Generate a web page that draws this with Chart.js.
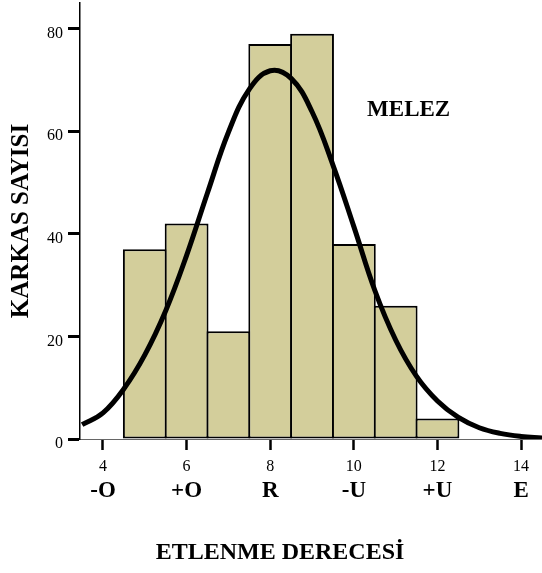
<!DOCTYPE html>
<html>
<head>
<meta charset="utf-8">
<script src="https://cdn.jsdelivr.net/npm/chart.js@4/dist/chart.umd.min.js"></script>
<style>
  html, body { margin: 0; padding: 0; background: #fff; }
  #wrap { width: 542px; height: 573px; }
</style>
</head>
<body>
<div id="wrap"><canvas id="hist" width="542" height="573"></canvas></div>
<script>
// karkas sayısı, etlenme derecesine göre
const binCenters = [5, 6, 7, 8, 9, 10, 11, 12];
const counts = [37, 42, 21, 77, 79, 38, 26, 4];

// normal eğri noktaları
const curveX = [3.5, 4, 4.5, 5, 5.5, 6, 6.5, 7, 7.5, 8, 8.5, 9, 9.5, 10, 10.5, 11, 11.5, 12, 12.5, 13, 13.5, 14, 14.5];
const curveY = [2.8, 5.1, 9.8, 16.4, 25.0, 35.8, 48.0, 59.8, 68.2, 71.8, 70.3, 63.8, 53.4, 41.4, 29.0, 19.3, 12.2, 7.4, 4.2, 2.2, 1.1, 0.5, 0.2];

// eksen etiketleri
const xTicks = [4, 6, 8, 10, 12, 14];
const gradeLabels = ["-O", "+O", "R", "-U", "+U", "E"];
const yTicks = [0, 20, 40, 60, 80];

const serif = "'Liberation Serif', 'Times New Roman', serif";

// MELEZ etiketi ve x ekseni başlığı
const extraText = {
    id: "extraText",
    afterDraw(chart) {
        const ctx = chart.ctx;
        const xs = chart.scales.x, ys = chart.scales.y;
        ctx.save();
        ctx.fillStyle = "#000";
        ctx.textAlign = "center";
        ctx.textBaseline = "middle";
        ctx.font = "bold 23px " + serif;
        ctx.fillText("MELEZ", xs.getPixelForValue(11.31), ys.getPixelForValue(64.2));
        ctx.font = "bold 24px " + serif;
        ctx.fillText("ETLENME DERECESİ", 280, 553);
        ctx.restore();
    },
};

const setTicks = (vals) => (s) => { s.ticks = vals.map((v) => ({ value: v })); };
// sabit eksen boyu, etiket taşma payı yok
const fixSize = (w, h) => (s) => {
    if (w) s.width = w;
    if (h) s.height = h;
    s.paddingTop = s.paddingBottom = s.paddingLeft = s.paddingRight = 0;
};

new Chart(document.getElementById("hist"), {
    type: "bar",
    data: {
        datasets: [
            {
                type: "line",
                data: curveX.map((x, i) => ({ x, y: curveY[i] })),
                borderColor: "#000",
                borderWidth: 5,
                pointRadius: 0,
                tension: 0.4,
                fill: false,
                order: 0,
            },
            {
                type: "bar",
                data: binCenters.map((x, i) => ({ x, y: counts[i] })),
                backgroundColor: "#d3ce9b",
                borderColor: "#000",
                borderWidth: 2,
                borderSkipped: false,
                barPercentage: 1.048,
                categoryPercentage: 1,
                order: 1,
            },
        ],
    },
    options: {
        responsive: false,
        devicePixelRatio: 1,
        animation: false,
        layout: { padding: { left: 0, right: 0, top: 3, bottom: 66 } },
        plugins: { legend: { display: false }, tooltip: { enabled: false } },
        scales: {
            x: {
                type: "linear",
                offset: false,
                min: 3.45,
                max: 14.5,
                afterBuildTicks: setTicks(xTicks),
                afterFit: fixSize(0, 38),
                grid: { offset: false, drawOnChartArea: false, tickLength: 11, tickWidth: 2.5, tickColor: "#000" },
                border: { color: "#666", width: 1 },
                ticks: { padding: 7, color: "#000", autoSkip: false, maxRotation: 0, font: { family: serif, size: 16 } },
            },
            x2: {
                type: "linear",
                position: "bottom",
                offset: false,
                min: 3.45,
                max: 14.5,
                afterBuildTicks: setTicks(xTicks),
                afterFit: fixSize(0, 30),
                grid: { offset: false, display: false, drawTicks: false },
                border: { display: false },
                ticks: {
                    padding: 0,
                    color: "#000",
                    autoSkip: false,
                    maxRotation: 0,
                    font: { family: serif, size: 23, weight: "bold" },
                    callback: (v) => gradeLabels[xTicks.indexOf(v)],
                },
            },
            y: {
                min: 0,
                max: 85,
                afterBuildTicks: setTicks(yTicks),
                afterFit: fixSize(80, 0),
                grid: { drawOnChartArea: false, tickLength: 12, tickWidth: 3, tickColor: "#000" },
                border: { color: "#000", width: 1.5 },
                ticks: { padding: 5, labelOffset: 5, color: "#000", font: { family: serif, size: 16 } },
                title: {
                    display: true,
                    text: "KARKAS SAYISI",
                    color: "#000",
                    font: { family: serif, size: 25, weight: "bold" },
                    padding: { top: 7, bottom: 0 },
                },
            },
        },
    },
    plugins: [extraText],
});
</script>
</body>
</html>
